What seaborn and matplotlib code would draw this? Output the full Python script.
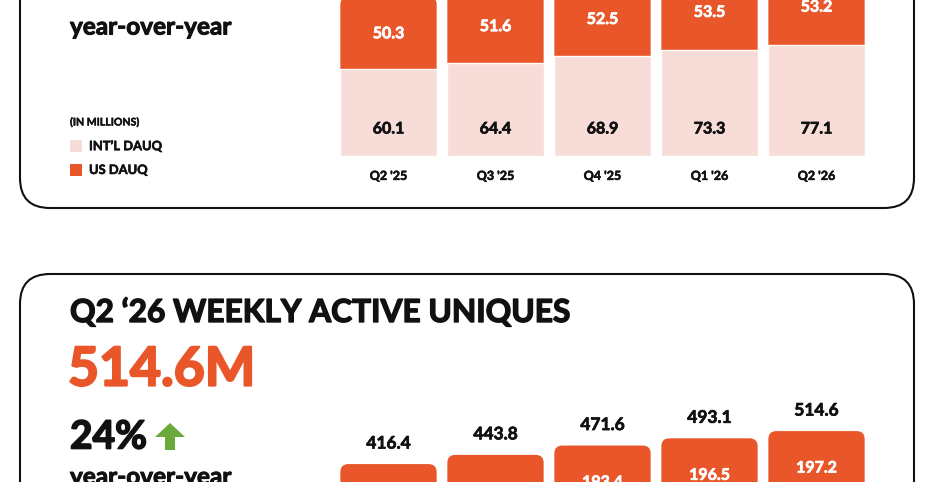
import matplotlib
matplotlib.use("Agg")
import matplotlib.pyplot as plt
import matplotlib.patheffects as pe
import seaborn as sns
from matplotlib.patches import FancyBboxPatch, Rectangle, Polygon

# data (in millions)
quarters = ["Q2 '25", "Q3 '25", "Q4 '25", "Q1 '26", "Q2 '26"]
dauq_intl = [60.1, 64.4, 68.9, 73.3, 77.1]
dauq_us = [50.3, 51.6, 52.5, 53.5, 53.2]
wau_total = [416.4, 443.8, 471.6, 493.1, 514.6]
wau_us = [189.0, 191.2, 193.4, 196.5, 197.2]  # first two hidden in the crop, estimated

ORANGE = "#E9562A"
PINK = "#F8DCD8"
GREEN = "#6BA93B"
INK = "#111111"
WT = "bold"

sns.set_style("white")
plt.rcParams["font.family"] = ["Lato", "DejaVu Sans"]


def heavy(color, lw=0.6):
    # fake a heavier weight than Lato Bold
    return [pe.withStroke(linewidth=lw, foreground=color)]


W, H = 934, 482
fig = plt.figure(figsize=(W / 100, H / 100), dpi=100)

# background axes in pixel coordinates (y down)
bg = fig.add_axes([0, 0, 1, 1], zorder=0)
bg.set_xlim(0, W)
bg.set_ylim(H, 0)
bg.axis("off")


def frac(x0, y_top, x1, y_bot):
    return [x0 / W, 1 - y_bot / H, (x1 - x0) / W, (y_bot - y_top) / H]


def round_bars(ax, bars, r_px, px_x, px_y):
    for b in bars:
        fb = FancyBboxPatch((b.get_x(), b.get_y()), b.get_width(), b.get_height(),
                            boxstyle=f"round,pad=0,rounding_size={r_px / px_x}",
                            mutation_aspect=px_x / px_y, fc=b.get_facecolor(),
                            ec="none", zorder=0.9)
        b.set_visible(False)
        ax.add_patch(fb)


# panel frames
for y0, h in [(-200, 408), (274, 420)]:
    bg.add_patch(FancyBboxPatch((20, y0), 894, h, boxstyle="round,pad=0,rounding_size=30",
                                fc="none", ec=INK, lw=1.5))

# ---- top panel: DAUQ stacked bars
top_x = 107.0
top_y = 1.445
ax1 = fig.add_axes(frac(335, 156 - 150 * top_y, 870, 156), zorder=1)
ax1.patch.set_alpha(0)
dauq_total = [a + b for a, b in zip(dauq_intl, dauq_us)]
sns.barplot(x=quarters, y=dauq_total, color=ORANGE, saturation=1, width=0.9, ax=ax1)
round_bars(ax1, list(ax1.patches), 8, top_x, top_y)
sns.barplot(x=quarters, y=dauq_intl, color=PINK, saturation=1, width=0.9, ax=ax1)
ax1.set_xlim(-0.5, 4.5)
ax1.set_ylim(0, 150)
for i in range(len(quarters)):
    ax1.annotate(f"{dauq_intl[i]:.1f}", (i, 0), xytext=(0, 28), textcoords="offset pixels",
                 ha="center", va="center_baseline", fontsize=11.5, fontweight=WT, color=INK,
                 path_effects=heavy(INK, 0.5))
    ax1.text(i, dauq_intl[i] + dauq_us[i] / 2, f"{dauq_us[i]:.1f}", ha="center",
             va="center_baseline", fontsize=11.5, fontweight=WT, color="white",
             path_effects=heavy("white", 0.5))
ax1.set_xticks(range(len(quarters)))
ax1.set_xticklabels(quarters, fontsize=9, fontweight=WT, color=INK)
for t in ax1.get_xticklabels():
    t.set_path_effects(heavy(INK, 0.4))
ax1.tick_params(axis="x", length=0, pad=10)
ax1.set_yticks([])
ax1.set_xlabel("")
ax1.set_ylabel("")
sns.despine(ax=ax1, left=True, bottom=True)

bg.text(70, 27, "year-over-year", fontsize=17.5, fontweight=WT, color=INK, va="center",
        path_effects=heavy(INK, 0.7))
bg.text(70, 122, "(IN MILLIONS)", fontsize=7.6, fontweight=WT, color=INK, va="center",
        path_effects=heavy(INK, 0.3))
bg.add_patch(Rectangle((70, 140), 12, 12, fc=PINK, ec="none"))
bg.add_patch(Rectangle((70, 164), 12, 12, fc=ORANGE, ec="none"))
bg.text(89, 146, "INT\u2019L DAUQ", fontsize=9.3, fontweight=WT, color=INK, va="center",
        path_effects=heavy(INK, 0.4))
bg.text(89, 170, "US DAUQ", fontsize=9.3, fontweight=WT, color=INK, va="center",
        path_effects=heavy(INK, 0.4))

# ---- bottom panel: weekly active uniques
bot_y = 0.336
ax2 = fig.add_axes(frac(335, 604 - 600 * bot_y, 870, 604), zorder=1)
ax2.patch.set_alpha(0)
sns.barplot(x=quarters, y=wau_total, color=ORANGE, saturation=1, width=0.9, ax=ax2)
round_bars(ax2, list(ax2.patches), 8, top_x, bot_y)
wau_intl = [t - u for t, u in zip(wau_total, wau_us)]
sns.barplot(x=quarters, y=wau_intl, color=PINK, saturation=1, width=0.9, ax=ax2)
ax2.set_xlim(-0.5, 4.5)
ax2.set_ylim(0, 600)
for i in range(len(quarters)):
    ax2.annotate(f"{wau_total[i]:.1f}", (i, wau_total[i]), xytext=(0, 22),
                 textcoords="offset pixels", ha="center", va="center_baseline",
                 fontsize=12.5, fontweight=WT, color=INK, path_effects=heavy(INK, 0.5))
    # US value sits a fixed distance under the bar top
    ax2.annotate(f"{wau_us[i]:.1f}", (i, wau_total[i]), xytext=(0, -36),
                 textcoords="offset pixels", ha="center", va="center_baseline",
                 fontsize=11.5, fontweight=WT, color="white",
                 path_effects=heavy("white", 0.5))
ax2.set_xticks([])
ax2.set_yticks([])
ax2.set_xlabel("")
ax2.set_ylabel("")
sns.despine(ax=ax2, left=True, bottom=True)

bg.text(70, 312, "Q2 \u201826 WEEKLY ACTIVE UNIQUES", fontsize=22.8, fontweight=WT,
        color=INK, va="center", path_effects=heavy(INK, 1.0))
bg.text(68, 370, "514.6M", fontsize=38.5, fontweight=WT, color=ORANGE, va="center",
        path_effects=heavy(ORANGE, 1.6))
bg.text(70, 437, "24%", fontsize=28, fontweight=WT, color=INK, va="center",
        path_effects=heavy(INK, 1.2))
bg.add_patch(Polygon([(155, 437), (170, 423), (185, 437), (175, 437), (175, 450),
                      (165, 450), (165, 437)], closed=True, fc=GREEN, ec="none"))
bg.text(70, 477, "year-over-year", fontsize=17.5, fontweight=WT, color=INK, va="center",
        path_effects=heavy(INK, 0.7))

fig.savefig("out.png", dpi=100)
